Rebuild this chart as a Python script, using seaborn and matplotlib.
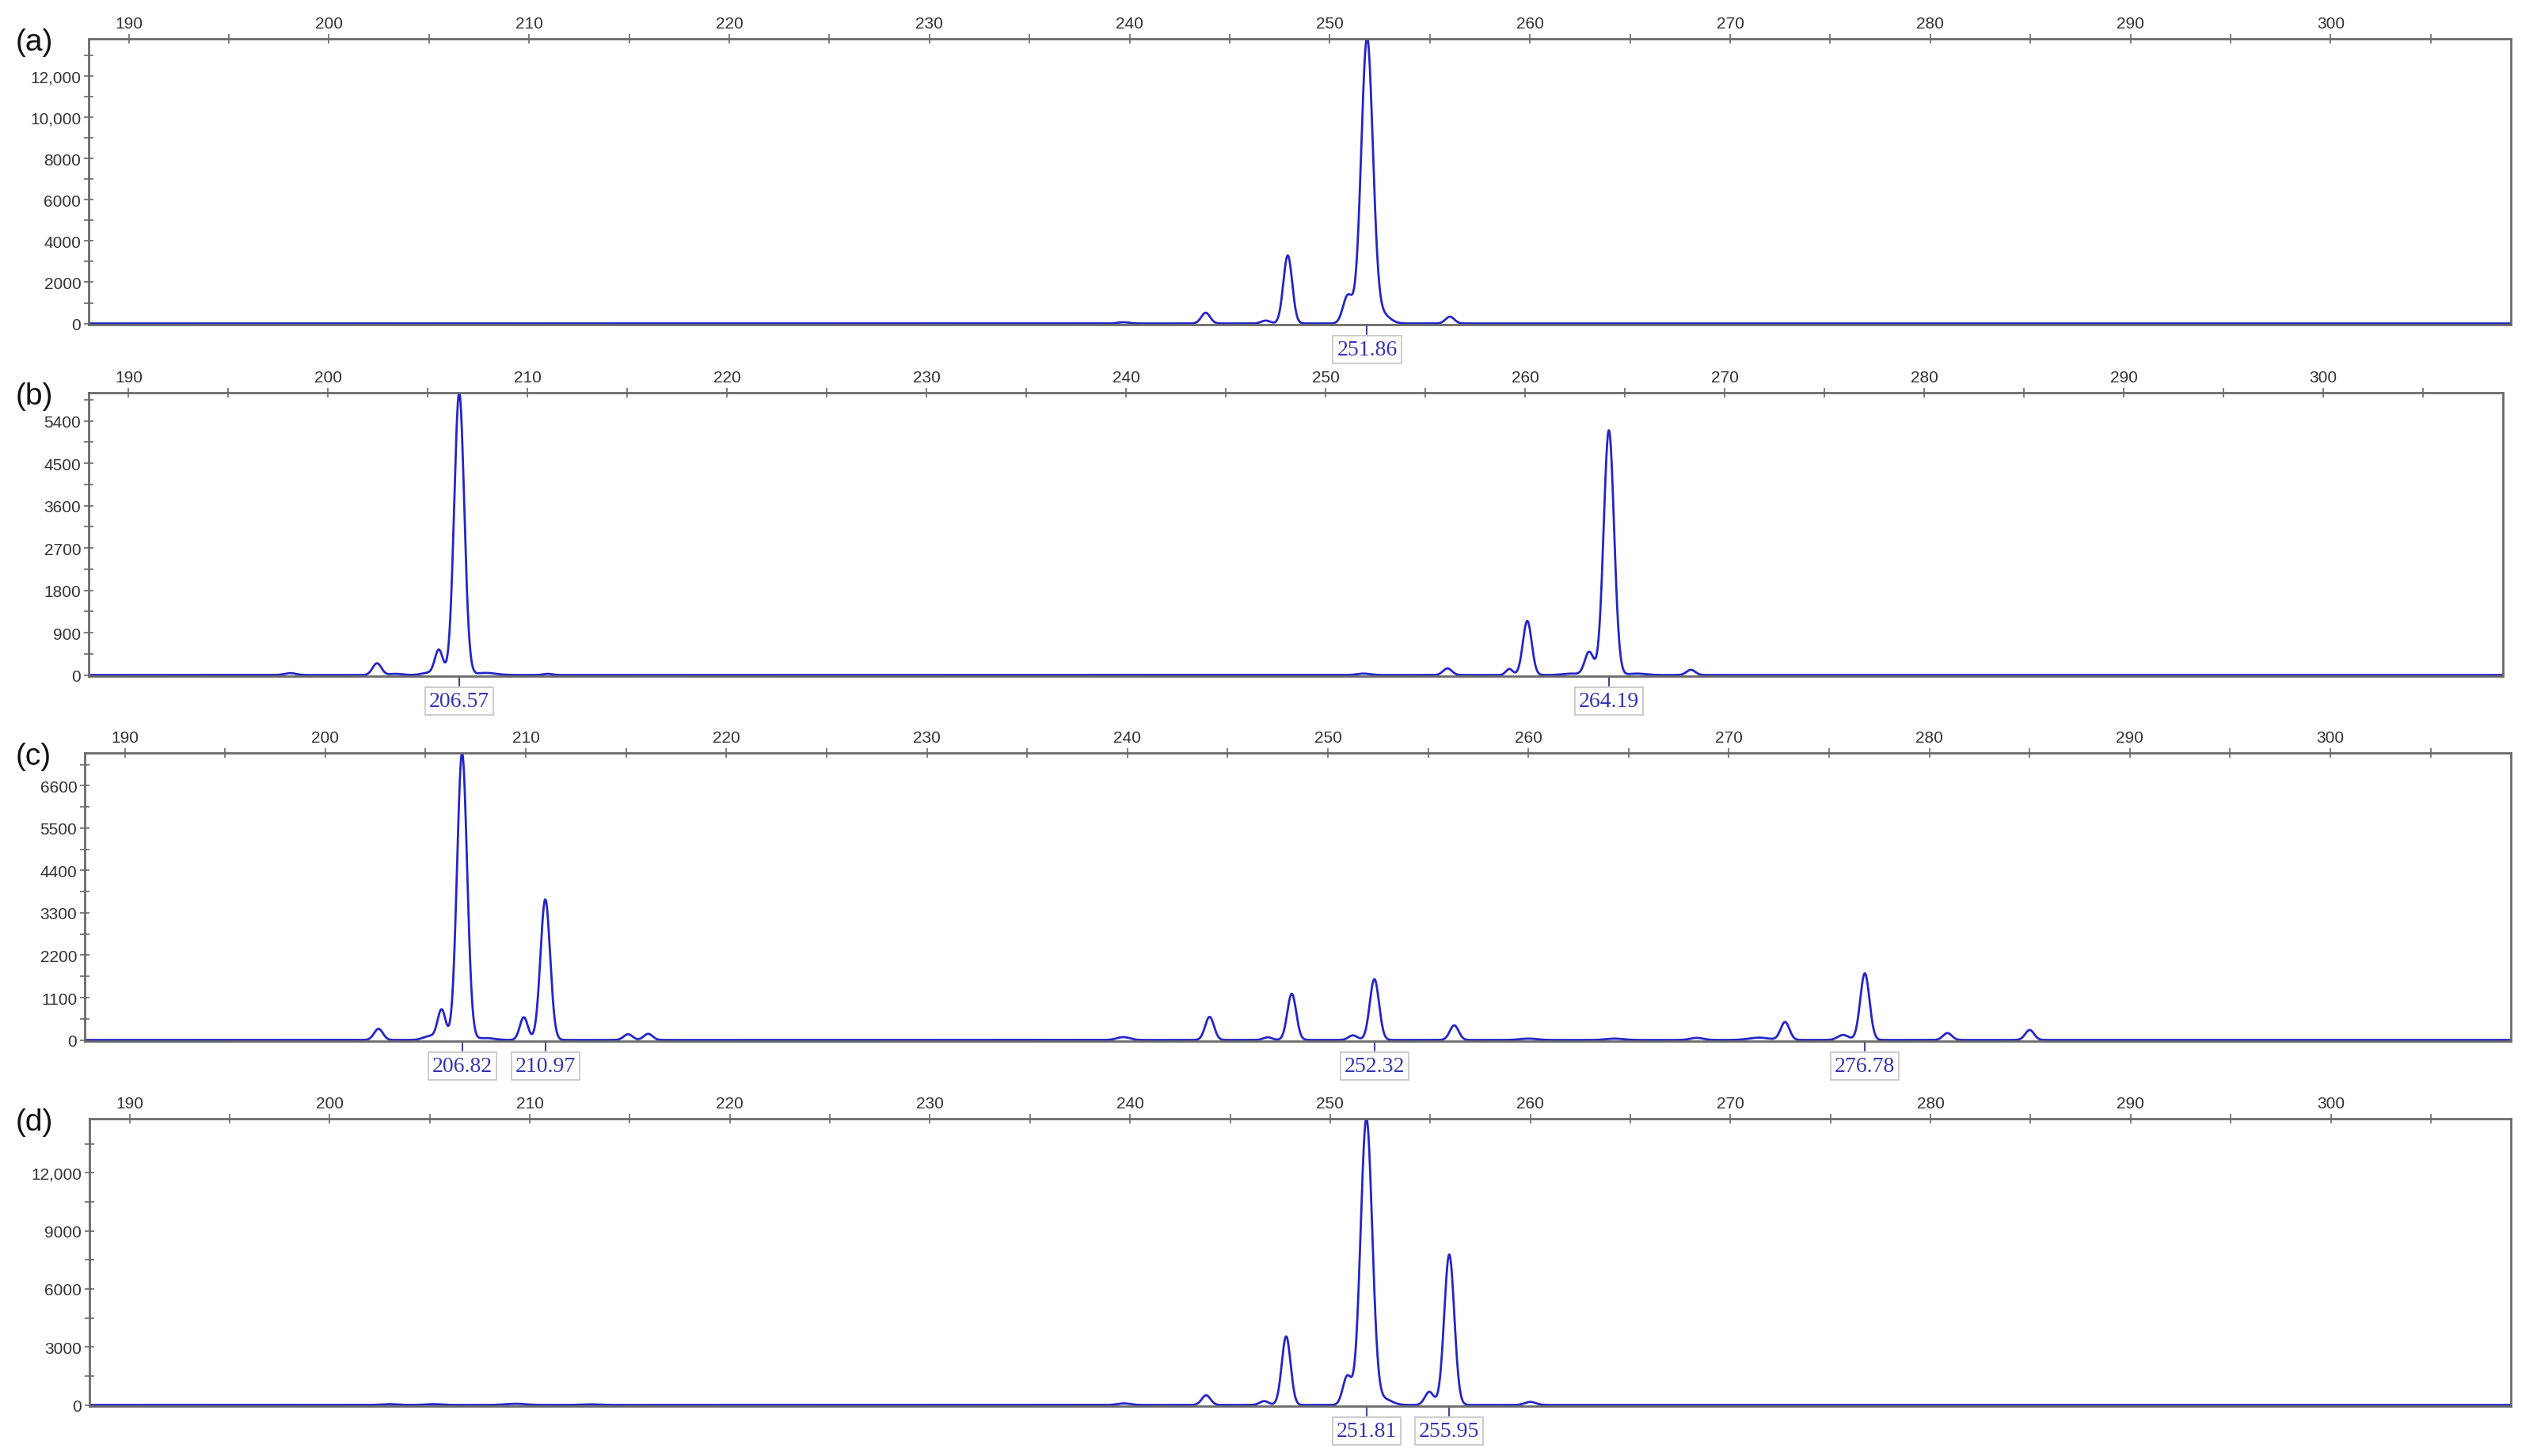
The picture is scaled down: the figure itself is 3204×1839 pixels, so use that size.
import numpy as np
import pandas as pd
import matplotlib
matplotlib.use('Agg')
import matplotlib.pyplot as plt
from matplotlib.ticker import MultipleLocator, FuncFormatter
import seaborn as sns

# peak tables: size (bp), height (RFU), width (sigma, bp)
a_pos = [239.7, 243.8, 246.8, 247.9, 250.9, 251.86, 252.6, 256.0]
a_hgt = [60, 520, 140, 3300, 1350, 13800, 450, 330]
a_sig = [0.28, 0.22, 0.22, 0.22, 0.24, 0.29, 0.38, 0.22]
a_lab = [251.86]

b_pos = [198.1, 202.45, 203.4, 205.0, 205.55, 206.57, 207.9, 211.0, 251.9, 256.1, 259.2, 260.1, 262.3, 263.2, 264.19, 265.6, 268.3]
b_hgt = [40, 250, 25, 45, 530, 6000, 45, 25, 30, 140, 130, 1150, 30, 490, 5200, 30, 110]
b_sig = [0.28, 0.22, 0.32, 0.32, 0.2, 0.25, 0.5, 0.22, 0.32, 0.22, 0.17, 0.22, 0.42, 0.22, 0.26, 0.42, 0.22]
b_lab = [206.57, 264.19]

c_pos = [202.65, 205.2, 205.8, 206.82, 208.0, 209.9, 210.97, 215.1, 216.1, 239.8, 244.1, 247.0, 248.2, 251.25, 252.32, 256.3,
         260.0, 264.3, 268.4, 271.5, 272.8, 275.7, 276.78, 280.9, 285.0]
c_hgt = [290, 100, 780, 7450, 50, 590, 3650, 150, 160, 75, 600, 70, 1200, 120, 1580, 380,
         35, 35, 55, 60, 465, 130, 1730, 180, 260]
c_sig = [0.22, 0.32, 0.2, 0.25, 0.42, 0.2, 0.24, 0.22, 0.22, 0.32, 0.22, 0.22, 0.22, 0.22, 0.23, 0.22,
         0.42, 0.42, 0.32, 0.5, 0.22, 0.27, 0.23, 0.22, 0.22]
c_lab = [206.82, 210.97, 252.32, 276.78]

d_pos = [203.0, 205.2, 209.3, 213.0, 239.7, 243.8, 246.7, 247.8, 250.85, 251.81, 252.7, 254.95, 255.95, 260.0]
d_hgt = [40, 40, 60, 30, 80, 500, 200, 3550, 1470, 14800, 300, 680, 7780, 160]
d_sig = [0.42, 0.42, 0.5, 0.42, 0.32, 0.22, 0.22, 0.22, 0.22, 0.29, 0.38, 0.22, 0.25, 0.27]
d_lab = [251.81, 255.95]

panel_names = ['(a)', '(b)', '(c)', '(d)']
y_tops = [13800, 6000, 7450, 14800]
y_steps = [2000, 900, 1100, 3000]

W, H = 3204, 1840
# axes boxes in pixels: left, right, top, bottom
boxes = [(112, 3171, 50, 411), (112, 3161, 497, 855), (107, 3171, 952, 1316), (113, 3171, 1414, 1777)]

line_col = '#2525c8'
lab_col = '#3434b4'
spine_col = '#6a6a6a'

sns.set_style('white')
plt.rcParams['font.family'] = ['Liberation Sans', 'DejaVu Sans']

fig = plt.figure(figsize=(W / 100, H / 100), dpi=100)
fig.patch.set_facecolor('white')

xs = np.linspace(188, 309, 7000)
tables = [(a_pos, a_hgt, a_sig, a_lab), (b_pos, b_hgt, b_sig, b_lab),
          (c_pos, c_hgt, c_sig, c_lab), (d_pos, d_hgt, d_sig, d_lab)]


def fmt(v, p):
    return f'{v:,.0f}' if v >= 10000 else f'{v:.0f}'


for i, (pos, hgt, sig, labs) in enumerate(tables):
    l, r, t, b = boxes[i]
    ax = fig.add_axes([l / W, 1 - b / H, (r - l) / W, (b - t) / H])
    trace = np.zeros_like(xs)
    for p, h, s in zip(pos, hgt, sig):
        trace += h * np.exp(-0.5 * ((xs - p) / s) ** 2)
    df = pd.DataFrame({'size': xs, 'rfu': trace})
    sns.lineplot(data=df, x='size', y='rfu', ax=ax, color=line_col, lw=2.0, estimator=None)

    top = y_tops[i]
    ax.set_xlim(188, 309)
    ax.set_ylim(-0.004 * top, top)
    ax.set_xlabel('')
    ax.set_ylabel('')

    ax.xaxis.tick_top()
    ax.xaxis.set_major_locator(MultipleLocator(10))
    ax.xaxis.set_minor_locator(MultipleLocator(5))
    ax.yaxis.set_major_locator(MultipleLocator(y_steps[i]))
    ax.yaxis.set_minor_locator(MultipleLocator(y_steps[i] / 2))
    ax.yaxis.set_major_formatter(FuncFormatter(fmt))
    ax.tick_params(axis='both', which='both', direction='inout', length=8, width=1.2,
                   color=spine_col, labelsize=15, labelcolor='#333333', pad=3)
    ax.tick_params(axis='x', which='both', top=True, bottom=False, labeltop=True, labelbottom=False)
    ax.tick_params(axis='y', which='both', left=True, right=False)
    for s in ax.spines.values():
        s.set_color(spine_col)
        s.set_linewidth(2)

    for lab in labs:
        ax.plot([lab, lab], [0, -0.033], transform=ax.get_xaxis_transform(),
                color='#44449a', lw=1.5, clip_on=False)
        ax.annotate(f'{lab:.2f}', xy=(lab, 0), xycoords=('data', 'axes fraction'),
                    xytext=(0, -13.5), textcoords='offset points', ha='center', va='top',
                    fontsize=20, color=lab_col, family=['Liberation Serif', 'DejaVu Serif'],
                    bbox=dict(boxstyle='square,pad=0.18', fc='white', ec='#c4c4c4', lw=1.2))

    fig.text(20 / W, 1 - (t + 4) / H, panel_names[i], fontsize=28, color='#111111',
             ha='left', va='center')

fig.savefig('out.png', dpi=100, facecolor='white')
